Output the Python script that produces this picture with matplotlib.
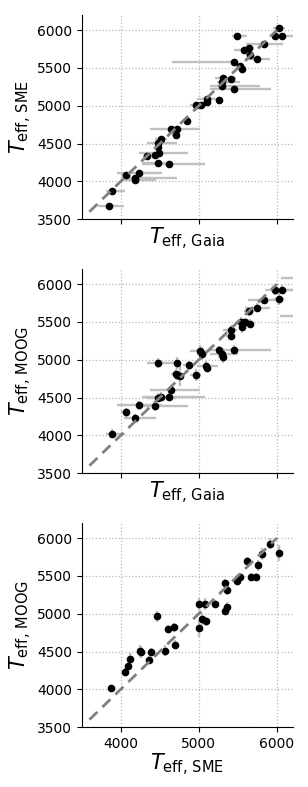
import numpy as np
import matplotlib
matplotlib.use("Agg")
import matplotlib.pyplot as plt

plt.rcParams.update({"font.size": 10, "mathtext.default": "regular"})

# Panel 1: Gaia vs SME
gaia_1 = [6025, 5979, 6059, 5492, 5835, 5580, 5640, 5657, 5750, 5445,
          5530, 5551, 5305, 5407, 5301, 5297, 5453, 5102, 5102, 5258,
          4962, 5025, 4852, 4640, 4716, 4703, 4513, 4475, 4475, 4487,
          4445, 4331, 4475, 4614, 4229, 4064, 4186, 4186, 3890, 3856]
sme_1 = [6031, 5921, 5921, 5921, 5819, 5731, 5757, 5669, 5621, 5581,
         5519, 5484, 5365, 5356, 5312, 5264, 5215, 5087, 5048, 5079,
         5012, 5004, 4796, 4690, 4690, 4607, 4567, 4510, 4457, 4382,
         4355, 4338, 4245, 4227, 4113, 4082, 4047, 4016, 3870, 3672]
gaia_lo_1 = [80, 75, 145, 65, 225, 135, 60, 50, 165, 790,
             40, 40, 100, 60, 70, 150, 310, 120, 50, 30,
             70, 60, 30, 270, 60, 40, 70, 135, 40, 255,
             60, 40, 200, 340, 270, 60, 185, 185, 80, 150]
gaia_hi_1 = [80, 75, 145, 125, 240, 90, 60, 50, 155, 60,
             40, 40, 170, 60, 230, 480, 475, 150, 50, 30,
             130, 60, 30, 370, 60, 40, 80, 245, 40, 370,
             60, 40, 180, 465, 300, 60, 540, 260, 160, 180]

# Panel 2: Gaia vs MOOG (two stars sit beyond the right edge)
gaia_2 = [5979, 6059, 6025, 5835, 5750, 5640, 5534, 5585, 5657, 5555,
          5407, 5407, 5449, 5021, 5042, 5254, 5297, 5305, 4475, 4716,
          4877, 5093, 5102, 4962, 4703, 4725, 4763, 4644, 4614, 4513,
          4475, 4445, 4229, 4064, 4186, 3890, 6300, 6400]
moog_2 = [5917, 5925, 5798, 5793, 5688, 5640, 5495, 5495, 5477, 5429,
          5398, 5319, 5130, 5121, 5082, 5126, 5069, 5033, 4959, 4959,
          4928, 4919, 4897, 4796, 4809, 4796, 4783, 4594, 4511, 4511,
          4497, 4388, 4396, 4308, 4229, 4023, 6075, 5577]
gaia_lo_2 = [135, 75, 70, 205, 160, 60, 60, 50, 40, 40,
             100, 60, 305, 130, 60, 30, 150, 60, 135, 60,
             80, 120, 50, 70, 60, 40, 40, 275, 340, 70,
             135, 210, 270, 60, 145, 80, 250, 360]
gaia_hi_2 = [225, 145, 70, 240, 155, 60, 60, 50, 40, 40,
             80, 60, 480, 70, 60, 30, 200, 60, 245, 60,
             80, 150, 50, 70, 60, 40, 40, 365, 465, 70,
             245, 410, 300, 60, 260, 160, 250, 360]
moog_err_2 = [60, 60, 80, 60, 60, 60, 70, 60, 60, 70,
              60, 60, 60, 80, 80, 60, 80, 70, 70, 80,
              60, 60, 60, 80, 70, 60, 130, 60, 60, 60,
              60, 60, 60, 60, 60, 60, 60, 60]

# Panel 3: SME vs MOOG
sme_3 = [5915, 5813, 6025, 5618, 5762, 5529, 5665, 5732, 5487, 5338,
         5363, 5002, 5079, 5210, 5363, 5338, 5045, 5096, 4459, 5006,
         4611, 4688, 4692, 4246, 4263, 4391, 4569, 4361, 4123, 4089,
         4055, 3881]
moog_3 = [5925, 5793, 5802, 5692, 5640, 5486, 5481, 5486, 5433, 5402,
          5319, 5130, 5130, 5130, 5090, 5042, 4924, 4902, 4963, 4805,
          4800, 4818, 4590, 4511, 4497, 4497, 4511, 4388, 4396, 4313,
          4229, 4018]
moog_err_3 = [70, 80, 100, 60, 70, 50, 50, 50, 60, 60,
              70, 80, 80, 50, 70, 60, 80, 60, 70, 110,
              50, 60, 60, 80, 80, 50, 70, 50, 80, 50,
              50, 40]

xlabels = [r"$\it{T}_{\rm eff,\,Gaia}$", r"$\it{T}_{\rm eff,\,Gaia}$", r"$\it{T}_{\rm eff,\,SME}$"]
ylabels = [r"$\it{T}_{\rm eff,\,SME}$", r"$\it{T}_{\rm eff,\,MOOG}$", r"$\it{T}_{\rm eff,\,MOOG}$"]

fig, axes = plt.subplots(3, 1, sharex=True, figsize=(3.08, 7.87), dpi=100)
fig.subplots_adjust(left=0.265, right=0.95, top=0.981, bottom=0.076, hspace=0.243)

errkw = dict(fmt="o", color="black", ms=4.5, ecolor="#c0c0c0", elinewidth=1.7, capsize=0, zorder=3)

ax = axes[0]
ax.errorbar(gaia_1, sme_1, xerr=[gaia_lo_1, gaia_hi_1], **errkw)

ax = axes[1]
ax.errorbar(gaia_2, moog_2, xerr=[gaia_lo_2, gaia_hi_2], yerr=moog_err_2, **errkw)

ax = axes[2]
ax.errorbar(sme_3, moog_3, yerr=moog_err_3, **errkw)

for i, ax in enumerate(axes):
    # one-to-one line
    ax.plot([3600, 6000], [3600, 6000], "--", color="gray", lw=2, dashes=(4, 2.5), zorder=4)
    ax.set_xlim(3500, 6200)
    ax.set_ylim(3500, 6200)
    ax.set_xticks([4000, 5000, 6000])
    ax.set_yticks(np.arange(3500, 6001, 500))
    ax.grid(True, ls=":", color="#b8b8b8", lw=0.9)
    ax.set_axisbelow(True)
    ax.spines["top"].set_visible(False)
    ax.spines["right"].set_visible(False)
    ax.set_xlabel(xlabels[i], fontsize=15, labelpad=1)
    ax.set_ylabel(ylabels[i], fontsize=15, labelpad=2)

fig.savefig("out.png", dpi=100)
